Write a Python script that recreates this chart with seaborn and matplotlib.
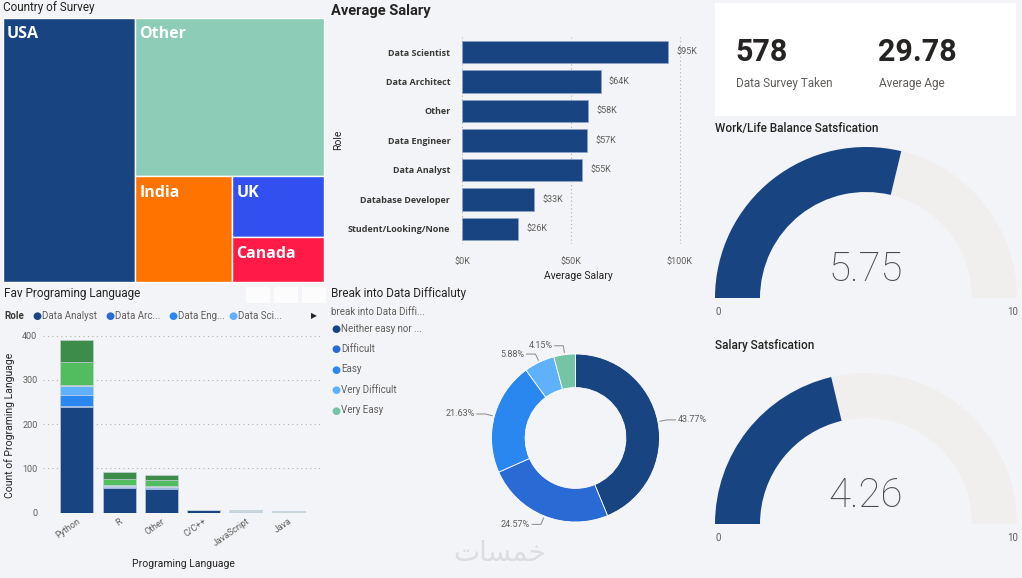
import numpy as np
import matplotlib
matplotlib.use("Agg")
import matplotlib.pyplot as plt
from matplotlib.patches import Rectangle, Wedge
import seaborn as sns

W, H = 1022, 578

# ---- data ----
countries = ["USA", "Other", "India", "UK", "Canada"]
country_counts = [238, 204, 70, 38, 28]
country_colors = ["#184482", "#8dcdb7", "#ff7300", "#3150ef", "#ff1a47"]

salary_roles = ["Data Scientist", "Data Architect", "Other", "Data Engineer",
                "Data Analyst", "Database Developer", "Student/Looking/None"]
avg_salary = [94700, 63600, 57800, 57300, 55100, 33100, 25700]

languages = ["Python", "R", "Other", "C/C++", "JavaScript", "Java"]
stack_roles = ["Data Analyst", "Data Architect", "Data Engineer", "Data Scientist",
               "Database Developer", "Other", "Student/Looking/None"]
analyst_counts = [238, 56, 54, 5, 0, 0]
architect_counts = [3, 1, 1, 0, 0, 0]
engineer_counts = [26, 2, 2, 0, 0, 0]
scientist_counts = [19, 2, 2, 0, 2, 0]
dbdev_counts = [2, 1, 1, 0, 3, 3]
other_counts = [53, 14, 15, 2, 0, 0]
student_counts = [49, 16, 11, 0, 0, 0]
role_colors = ["#184482", "#2a6ad5", "#2b87f0", "#5eb1fa", "#c9d6d8", "#52bd5e", "#3d8c4a"]

difficulty_levels = ["Neither easy nor difficult", "Difficult", "Easy",
                     "Very Difficult", "Very Easy"]
difficulty_pct = [43.77, 24.57, 21.63, 5.88, 4.15]
difficulty_colors = ["#184482", "#2a6ad5", "#2b87f0", "#5eb1fa", "#75c4a5"]

surveys_taken = 578
average_age = 29.78
gauge_titles = ["Work/Life Balance Satsfication", "Salary Satsfication"]
gauge_values = [5.75, 4.26]
gauge_max = 10

NAVY = "#184482"
DARK = "#252423"
GREY = "#605e5c"
BG = "#f3f4f7"

sns.set_theme(style="white")
plt.rcParams['font.family'] = ['Roboto', 'DejaVu Sans']
plt.rcParams['axes.unicode_minus'] = False


def Y(y):
    return H - y


def px_axes(x0, y0, x1, y1):
    a = fig.add_axes([x0 / W, 1 - y1 / H, (x1 - x0) / W, (y1 - y0) / H], zorder=2)
    a.patch.set_alpha(0)
    return a


def ftext(x, y, s, **kw):
    kw.setdefault("va", "center")
    kw.setdefault("color", DARK)
    fig.text(x / W, 1 - y / H, s, **kw)


def trunc(s, n):
    return s if len(s) <= n else s[:n] + "..."


def squarify(vals, x, y, w, h):
    rects = []
    vals = list(vals)

    def worst(row, side):
        s = sum(row)
        return max(max(side * side * v / (s * s), (s * s) / (side * side * v)) for v in row)

    while vals:
        side = min(w, h)
        row = [vals[0]]
        i = 1
        while i < len(vals) and worst(row + [vals[i]], side) < worst(row, side):
            row.append(vals[i])
            i += 1
        thick = sum(row) / side
        if w >= h:
            yy = y
            for v in row:
                rects.append((x, yy, thick, v / thick))
                yy += v / thick
            x += thick
            w -= thick
        else:
            xx = x
            for v in row:
                rects.append((xx, y, v / thick, thick))
                xx += v / thick
            y += thick
            h -= thick
        vals = vals[i:]
    return rects


fig = plt.figure(figsize=(W / 100, H / 100), dpi=100, facecolor=BG)
bg = fig.add_axes([0, 0, 1, 1], zorder=0)
bg.set_facecolor(BG)
bg.axis("off")

# ---- treemap ----
tx, ty, tw, th = 3, 18, 321, 264
areas = np.array(country_counts) / sum(country_counts) * tw * th
for (rx, ry, rw, rh), name, col in zip(squarify(areas, tx, ty, tw, th), countries, country_colors):
    bg.add_patch(Rectangle((rx, Y(ry + rh)), rw, rh, facecolor=col, edgecolor="white", lw=1))
    bg.text(rx + 4, Y(ry + 20.5), name, color="white", fontsize=11.5, fontweight="bold",
            family=["Open Sans", "DejaVu Sans"], va="baseline")
ftext(3, 8, "Country of Survey", fontsize=8.5)

# ---- average salary ----
ax_s = px_axes(460, 37.25, 682, 243.75)
sns.barplot(x=avg_salary, y=salary_roles, orient="h", color=NAVY, width=0.75,
            saturation=1, edgecolor="#8fa6c8", linewidth=0.5, ax=ax_s)
ax_s.bar_label(ax_s.containers[0], labels=[f"${v / 1000:.0f}K" for v in avg_salary],
               padding=6, fontsize=6.5, color=GREY)
ax_s.set_xlim(-1000, 101000)
ax_s.set_xticks([0, 50000, 100000])
ax_s.set_xticklabels(["$0K", "$50K", "$100K"], fontsize=6.5, color=GREY)
ax_s.tick_params(axis="x", length=0, pad=10)
ax_s.tick_params(axis="y", length=0, pad=7)
for lab in ax_s.get_yticklabels():
    lab.set_fontsize(6.5)
    lab.set_fontweight("bold")
    lab.set_color("#3b3a39")
    lab.set_family(["Open Sans", "DejaVu Sans"])
ax_s.grid(axis="x", linestyle=(0, (1, 2.5)), color="#b3b0ad", lw=0.8)
ax_s.set_axisbelow(True)
ax_s.set_xlabel("")
ax_s.set_ylabel("")
sns.despine(ax=ax_s, left=True, bottom=True)
ftext(331, 11, "Average Salary", fontsize=10.5, fontweight="bold")
ftext(578, 276, "Average Salary", fontsize=7.5, ha="center")
ftext(338, 140, "Role", fontsize=7.5, rotation=90, ha="center")

# ---- favourite programming language ----
ax_l = px_axes(43, 330, 320, 512.7)
stacks = [analyst_counts, architect_counts, engineer_counts, scientist_counts,
          dbdev_counts, other_counts, student_counts]
bottom = np.zeros(len(languages))
for vals, col in zip(stacks, role_colors):
    sns.barplot(x=languages, y=vals, bottom=bottom, color=col, saturation=1, width=0.78,
                edgecolor="#c9d3e0", linewidth=0.4, errorbar=None, ax=ax_l)
    bottom = bottom + np.array(vals)
ax_l.set_xlim(-0.8, 5.75)
ax_l.set_ylim(0, 412.8)
ax_l.set_yticks([0, 100, 200, 300, 400])
ax_l.tick_params(axis="y", length=0, labelsize=6.5, labelcolor=GREY, pad=4)
ax_l.tick_params(axis="x", length=0, labelsize=6.5, labelcolor=GREY, pad=3)
for lab in ax_l.get_xticklabels():
    lab.set_rotation(35)
    lab.set_ha("right")
    lab.set_rotation_mode("anchor")
ax_l.grid(axis="y", linestyle=(0, (1, 3)), color="#b3b0ad", lw=0.8)
ax_l.set_axisbelow(True)
ax_l.set_xlabel("")
ax_l.set_ylabel("")
sns.despine(ax=ax_l, left=True, bottom=True)
ftext(4, 294, "Fav Programing Language", fontsize=8.5)
for bx in [246, 274, 302]:
    bg.add_patch(Rectangle((bx, Y(303)), 24, 16, facecolor="white", edgecolor="none", alpha=0.8))
ftext(4, 316, "Role", fontsize=7, fontweight="bold", color="#3b3a39")
for lx, role, col in zip([37, 110, 173, 233], stack_roles[:4], role_colors[:4]):
    ftext(lx, 316.5, "\u25CF", fontsize=7.5, color=col, ha="center", family=["DejaVu Sans"])
    ftext(lx + 5, 316, trunc(role, 8) if role != "Data Analyst" else role, fontsize=7, color=GREY)
ftext(311, 316, "\u25B6", fontsize=5.5, color=DARK, family=["DejaVu Sans"])
ftext(183, 564, "Programing Language", fontsize=7.5, ha="center")
ftext(10, 425, "Count of Programing Language", fontsize=7.5, rotation=90, ha="center")

# ---- difficulty donut ----
cx, cy, r_out = 575.5, 438, 84
wedges, _ = bg.pie(difficulty_pct, colors=difficulty_colors, startangle=90, counterclock=False,
                   radius=r_out, center=(cx, Y(cy)),
                   wedgeprops=dict(width=r_out * 0.4, edgecolor="white", linewidth=0.6))
for w_, pct in zip(wedges, difficulty_pct):
    ang = np.deg2rad((w_.theta1 + w_.theta2) / 2)
    ca, sa = np.cos(ang), np.sin(ang)
    p0 = (cx + (r_out + 2) * ca, Y(cy) + (r_out + 2) * sa)
    p1 = (cx + (r_out + 9) * ca, Y(cy) + (r_out + 9) * sa)
    side = 1 if ca >= 0 else -1
    p2 = (p1[0] + side * 9, p1[1])
    bg.plot([p0[0], p1[0], p2[0]], [p0[1], p1[1], p2[1]], color="#8a8886", lw=0.7)
    bg.text(p2[0] + side * 2, p2[1], f"{pct:.2f}%", fontsize=6.5, color=GREY, va="center",
            ha="left" if side > 0 else "right")
ftext(331, 294, "Break into Data Difficaluty", fontsize=8.5)
ftext(331, 312, "break into Data Diffi...", fontsize=7, color=GREY)
for i, (lev, col) in enumerate(zip(difficulty_levels, difficulty_colors)):
    yy = 328.5 + i * 20.4
    ftext(336, yy + 0.5, "\u25CF", fontsize=7.5, color=col, ha="center", family=["DejaVu Sans"])
    ftext(341, yy, trunc(lev, 17), fontsize=7, color=GREY)

# ---- KPI card ----
bg.add_patch(Rectangle((715, Y(116)), 301, 113, facecolor="white", edgecolor="none"))
ftext(735, 52, f"{surveys_taken}", fontsize=22, fontweight="bold")
ftext(736, 83, "Data Survey Taken", fontsize=8.5, color=GREY)
ftext(878, 52, f"{average_age:.2f}", fontsize=22, fontweight="bold")
ftext(879, 83, "Average Age", fontsize=8.5, color=GREY)

# ---- gauges ----
for title, val, ty_, gcy in zip(gauge_titles, gauge_values, [128, 345], [298, 524]):
    gcx, r_o, r_i = 866, 151, 106
    frac = val / gauge_max
    split = 180 - frac * 180
    bg.add_patch(Wedge((gcx, Y(gcy)), r_o, 0, split, width=r_o - r_i,
                       facecolor="#f1efed", edgecolor="none"))
    bg.add_patch(Wedge((gcx, Y(gcy)), r_o, split, 180, width=r_o - r_i,
                       facecolor=NAVY, edgecolor="none"))
    ftext(715, ty_, title, fontsize=8.5, fontweight="medium")
    ftext(gcx, gcy - 28, f"{val:.2f}", fontsize=29, fontweight="light", color="#4b4a49", ha="center")
    ftext(716, gcy + 14, "0", fontsize=7, color=GREY)
    ftext(1018, gcy + 14, f"{gauge_max}", fontsize=7, color=GREY, ha="right")

# watermark
ftext(500, 553, "\uFE95\uFE8E\uFEB4\uFEE4\uFEA7", fontsize=20, color="#dcdde0",
      ha="center", family=["DejaVu Sans"])

bg.set_xlim(0, W)
bg.set_ylim(0, H)
bg.set_aspect("auto")
bg.axis("off")

fig.savefig("out.png", dpi=100, facecolor=BG)
